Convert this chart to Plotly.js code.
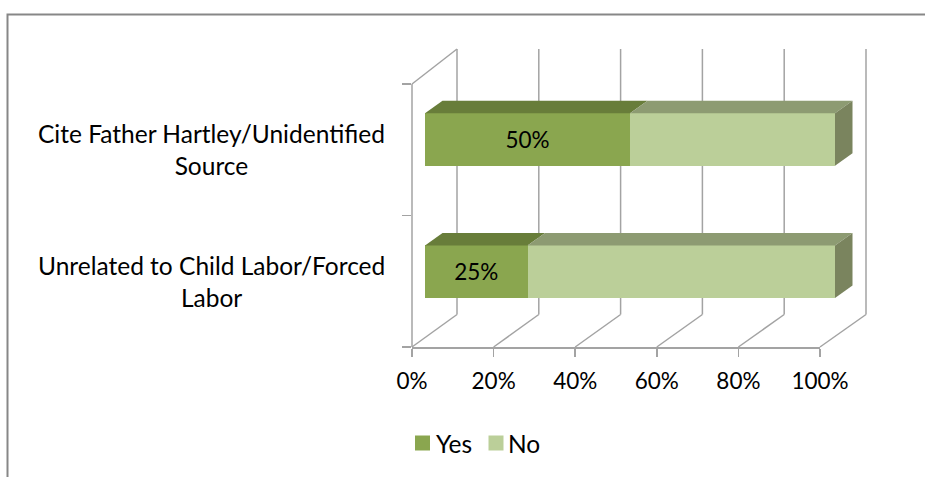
<!DOCTYPE html>
<html>
<head>
<meta charset="utf-8">
<script src="https://cdn.plot.ly/plotly-3.0.1.min.js"></script>
<style>html,body{margin:0;padding:0;background:#fff;}#chart{width:925px;height:477px;}</style>
</head>
<body>
<div id="chart"></div>
<script>
// ---- data ----
var categories = ["Unrelated to Child Labor/Forced Labor", "Cite Father Hartley/Unidentified Source"];
var categoryLabels = ["Unrelated to Child Labor/Forced<br>Labor", "Cite Father Hartley/Unidentified<br>Source"];
var seriesNames = ["Yes", "No"];
var yesValues = [25, 50];
var noValues = [75, 50];
var tickValues = [0, 20, 40, 60, 80, 100];

// ---- styling ----
var W = 925, H = 477;
var FONT = "Lato, 'Open Sans', sans-serif";
var FS_TEXT = 24.5;
var FS_NUM = 22.5;
var frontColors = ["#8aa64f", "#bbcf99"];
var topColors = ["#687d3a", "#8d9b72"];
var sideColor = "#7a845e";
var gridColor = "#a3a3a3";

function fx(px) { return px / W; }
function fy(py) { return 1 - py / H; }

// geometry (pixels)
var front = {x0: 412, x1: 820, yTop: 84, yBot: 347};
var back = {x0: 457, x1: 866, yTop: 49, yBot: 314.5};
var barAx = {x0: 425, pxPerUnit: 4.1, maxRange: 106, yCenterTop: 139.5, yCenterBot: 271.7};
var catPx = barAx.yCenterBot - barAx.yCenterTop;
var barWidth = 52.5 / catPx;
var depthX = 17.5 / barAx.pxPerUnit;
var depthY = 12.5 / catPx;

var series = [yesValues, noValues];

var traces = [];
traces.push({type: "scatter", x: [], y: [], xaxis: "x3", yaxis: "y3", showlegend: false, hoverinfo: "skip"});

series.forEach(function (vals, i) {
  traces.push({
    type: "bar",
    orientation: "h",
    name: seriesNames[i],
    x: vals,
    y: categories,
    xaxis: "x2",
    yaxis: "y2",
    width: barWidth,
    marker: {color: frontColors[i], line: {width: 0}},
    text: i === 0 ? vals.map(function (v) { return v + "%"; }) : null,
    textposition: i === 0 ? "inside" : "none",
    insidetextanchor: "middle",
    textfont: {family: FONT, size: FS_NUM, color: "#000"},
    constraintext: "none",
    showlegend: false,
    hoverinfo: "x+name"
  });
});

var shapes = [];
function gline(x0, y0, x1, y1) {
  shapes.push({type: "line", xref: "paper", yref: "paper", x0: fx(x0), y0: fy(y0), x1: fx(x1), y1: fy(y1),
    line: {color: gridColor, width: 1.5}, layer: "below"});
}
// border
shapes.push({type: "rect", xref: "paper", yref: "paper", x0: fx(7.5), y0: fy(14.5), x1: 1.05, y1: -0.05,
  line: {color: "#878787", width: 2}, fillcolor: "rgba(0,0,0,0)", layer: "below"});

// back wall gridlines and floor diagonals, from the tick values
tickValues.forEach(function (v) {
  var pf = front.x0 + (front.x1 - front.x0) * v / 100;
  var pb = back.x0 + (back.x1 - back.x0) * v / 100;
  gline(pb, back.yTop, pb, back.yBot);
  gline(pf, front.yBot, pb, back.yBot);
});
// left wall: front vertical and top diagonal
gline(front.x0, front.yTop, front.x0, front.yBot);
gline(front.x0, front.yTop, back.x0, back.yTop);

// 3D faces of bars (data coordinates on bar axes)
categories.forEach(function (c, j) {
  var cum = 0;
  var yt = j + barWidth / 2, yb = j - barWidth / 2;
  series.forEach(function (vals, i) {
    var a = cum, b = cum + vals[j];
    cum = b;
    shapes.push({type: "path", xref: "x2", yref: "y2",
      path: "M" + a + "," + yt + " L" + (a + depthX) + "," + (yt + depthY) + " L" + (b + depthX) + "," + (yt + depthY) + " L" + b + "," + yt + " Z",
      fillcolor: topColors[i], line: {width: 0}});
  });
  shapes.push({type: "path", xref: "x2", yref: "y2",
    path: "M" + cum + "," + yb + " L" + cum + "," + yt + " L" + (cum + depthX) + "," + (yt + depthY) + " L" + (cum + depthX) + "," + (yb + depthY) + " Z",
    fillcolor: sideColor, line: {width: 0}});
});

// legend (manual)
var legendItems = [{sq: 415, tx: 434}, {sq: 488.5, tx: 506}];
var annotations = [];
seriesNames.forEach(function (n, i) {
  var it = legendItems[i];
  shapes.push({type: "rect", xref: "paper", yref: "paper", x0: fx(it.sq), x1: fx(it.sq + 15), y0: fy(450.5), y1: fy(435.5),
    fillcolor: frontColors[i], line: {width: 0}});
  annotations.push({xref: "paper", yref: "paper", x: fx(it.tx), y: fy(443), xanchor: "left", yanchor: "middle",
    text: n, showarrow: false, font: {family: FONT, size: FS_TEXT, color: "#000"}});
});

// category labels
categoryLabels.forEach(function (lab, j) {
  annotations.push({xref: "paper", yref: "y3", x: fx(211), y: j, xanchor: "center", yanchor: "middle",
    text: lab, align: "center", showarrow: false, font: {family: FONT, size: FS_TEXT, color: "#000"}});
});

var layout = {
  width: W, height: H,
  margin: {l: 0, r: 0, t: 0, b: 0},
  paper_bgcolor: "#fff", plot_bgcolor: "rgba(0,0,0,0)",
  barmode: "stack",
  showlegend: false,
  font: {family: FONT, size: FS_TEXT, color: "#000"},
  // bars
  xaxis2: {domain: [fx(barAx.x0), fx(barAx.x0 + barAx.pxPerUnit * barAx.maxRange)], range: [0, barAx.maxRange],
    anchor: "y2", visible: false, fixedrange: true},
  yaxis2: {domain: [fy(barAx.yCenterBot + catPx / 2), fy(barAx.yCenterTop - catPx / 2)], range: [-0.5, 1.5],
    type: "category", categoryorder: "array", categoryarray: categories, anchor: "x2", visible: false, fixedrange: true},
  // front axes
  xaxis3: {domain: [fx(front.x0), fx(front.x1)], range: [0, 100], anchor: "y3", tickvals: tickValues,
    ticktext: tickValues.map(function (v) { return v + "%"; }),
    ticks: "outside", ticklen: 8, tickwidth: 1.5, tickcolor: gridColor,
    showline: true, linecolor: gridColor, linewidth: 1.5, showgrid: false, zeroline: false,
    tickfont: {family: FONT, size: FS_NUM, color: "#000"}, ticklabelstandoff: 5, fixedrange: true},
  yaxis3: {domain: [fy(front.yBot), fy(front.yTop)], range: [-0.5, 1.5], anchor: "x3", tickvals: [-0.5, 0.5, 1.5],
    ticks: "outside", ticklen: 9, tickwidth: 1.5, tickcolor: gridColor,
    showline: false, showgrid: false, zeroline: false,
    showticklabels: false, fixedrange: true},
  shapes: shapes,
  annotations: annotations
};

Plotly.newPlot("chart", traces, layout, {displayModeBar: false, staticPlot: true});
</script>
</body>
</html>
